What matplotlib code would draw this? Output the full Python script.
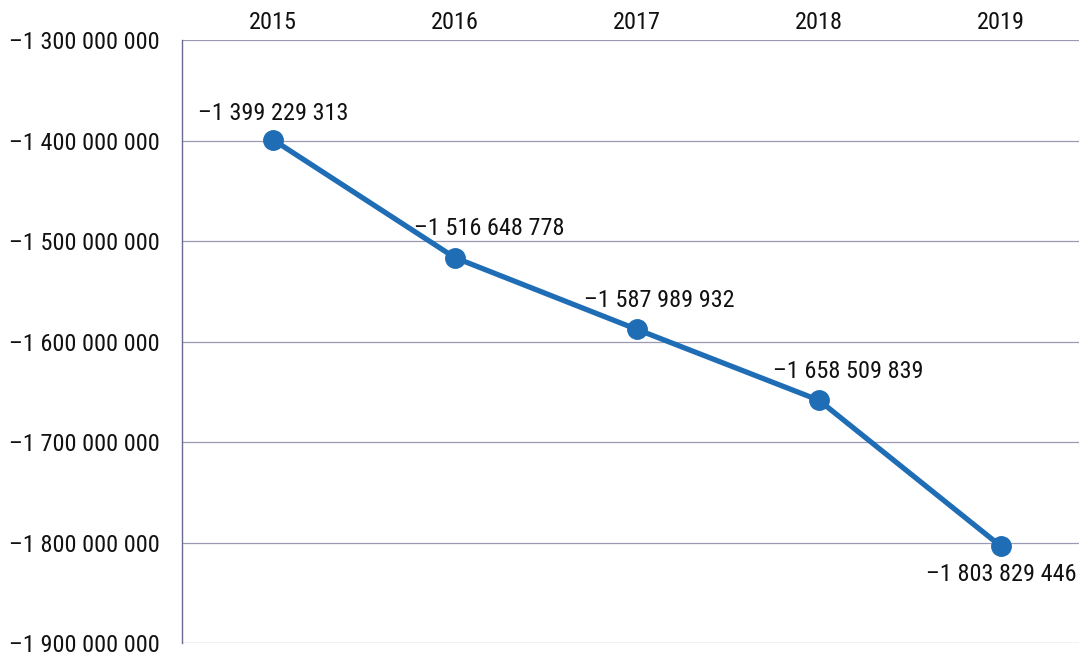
import numpy as np
import matplotlib
matplotlib.use("Agg")
import matplotlib.pyplot as plt
from matplotlib.ticker import FuncFormatter

plt.rcParams['font.family'] = ['Roboto Condensed', 'DejaVu Sans']

# data
years = ['2015', '2016', '2017', '2018', '2019']
values = [-1399229313, -1516648778, -1587989932, -1658509839, -1803829446]
yticks = [-1300000000, -1400000000, -1500000000, -1600000000,
          -1700000000, -1800000000, -1900000000]


def fmt(v, pos=None):
    s = '{:,}'.format(int(abs(round(v)))).replace(',', ' ')
    return ('\u2013' + s) if v < 0 else s


fig = plt.figure(figsize=(10.79, 6.57), dpi=100)
ax = fig.add_axes([182 / 1079, 14 / 657, (1092 - 182) / 1079, (643 - 40) / 657])

x = np.arange(len(years))
ax.plot(x, values, color='#1f6db5', lw=3.8, marker='o', ms=14,
        markerfacecolor='#1f6db5', markeredgecolor='#1f6db5', zorder=3)

# labels: (dx, dy) offsets in points
offsets = [(0, 19), (25, 21), (16, 21), (21, 21), (0, -20)]
for xi, v, (dx, dy) in zip(x, values, offsets):
    ax.annotate(fmt(v), (xi, v), xytext=(dx, dy), textcoords='offset points',
                ha='center', va='center', fontsize=17.5, color='#111111')

ax.set_xlim(-0.5, 4.5)
ax.set_ylim(-1900000000, -1300000000)
ax.set_xticks(x)
ax.set_xticklabels(years)
ax.xaxis.tick_top()
ax.set_yticks(yticks)
ax.yaxis.set_major_formatter(FuncFormatter(fmt))
ax.tick_params(axis='both', length=0, labelsize=17.5, colors='#111111')
ax.tick_params(axis='y', pad=16)
ax.tick_params(axis='x', pad=4)

ax.grid(axis='y', color='#9a9ab4', lw=0.9)
ax.set_axisbelow(True)
for s in ['top', 'right', 'bottom']:
    ax.spines[s].set_visible(False)
ax.spines['left'].set_color('#6a6a90')
ax.spines['left'].set_linewidth(1.0)

fig.savefig('out.png', dpi=100)
